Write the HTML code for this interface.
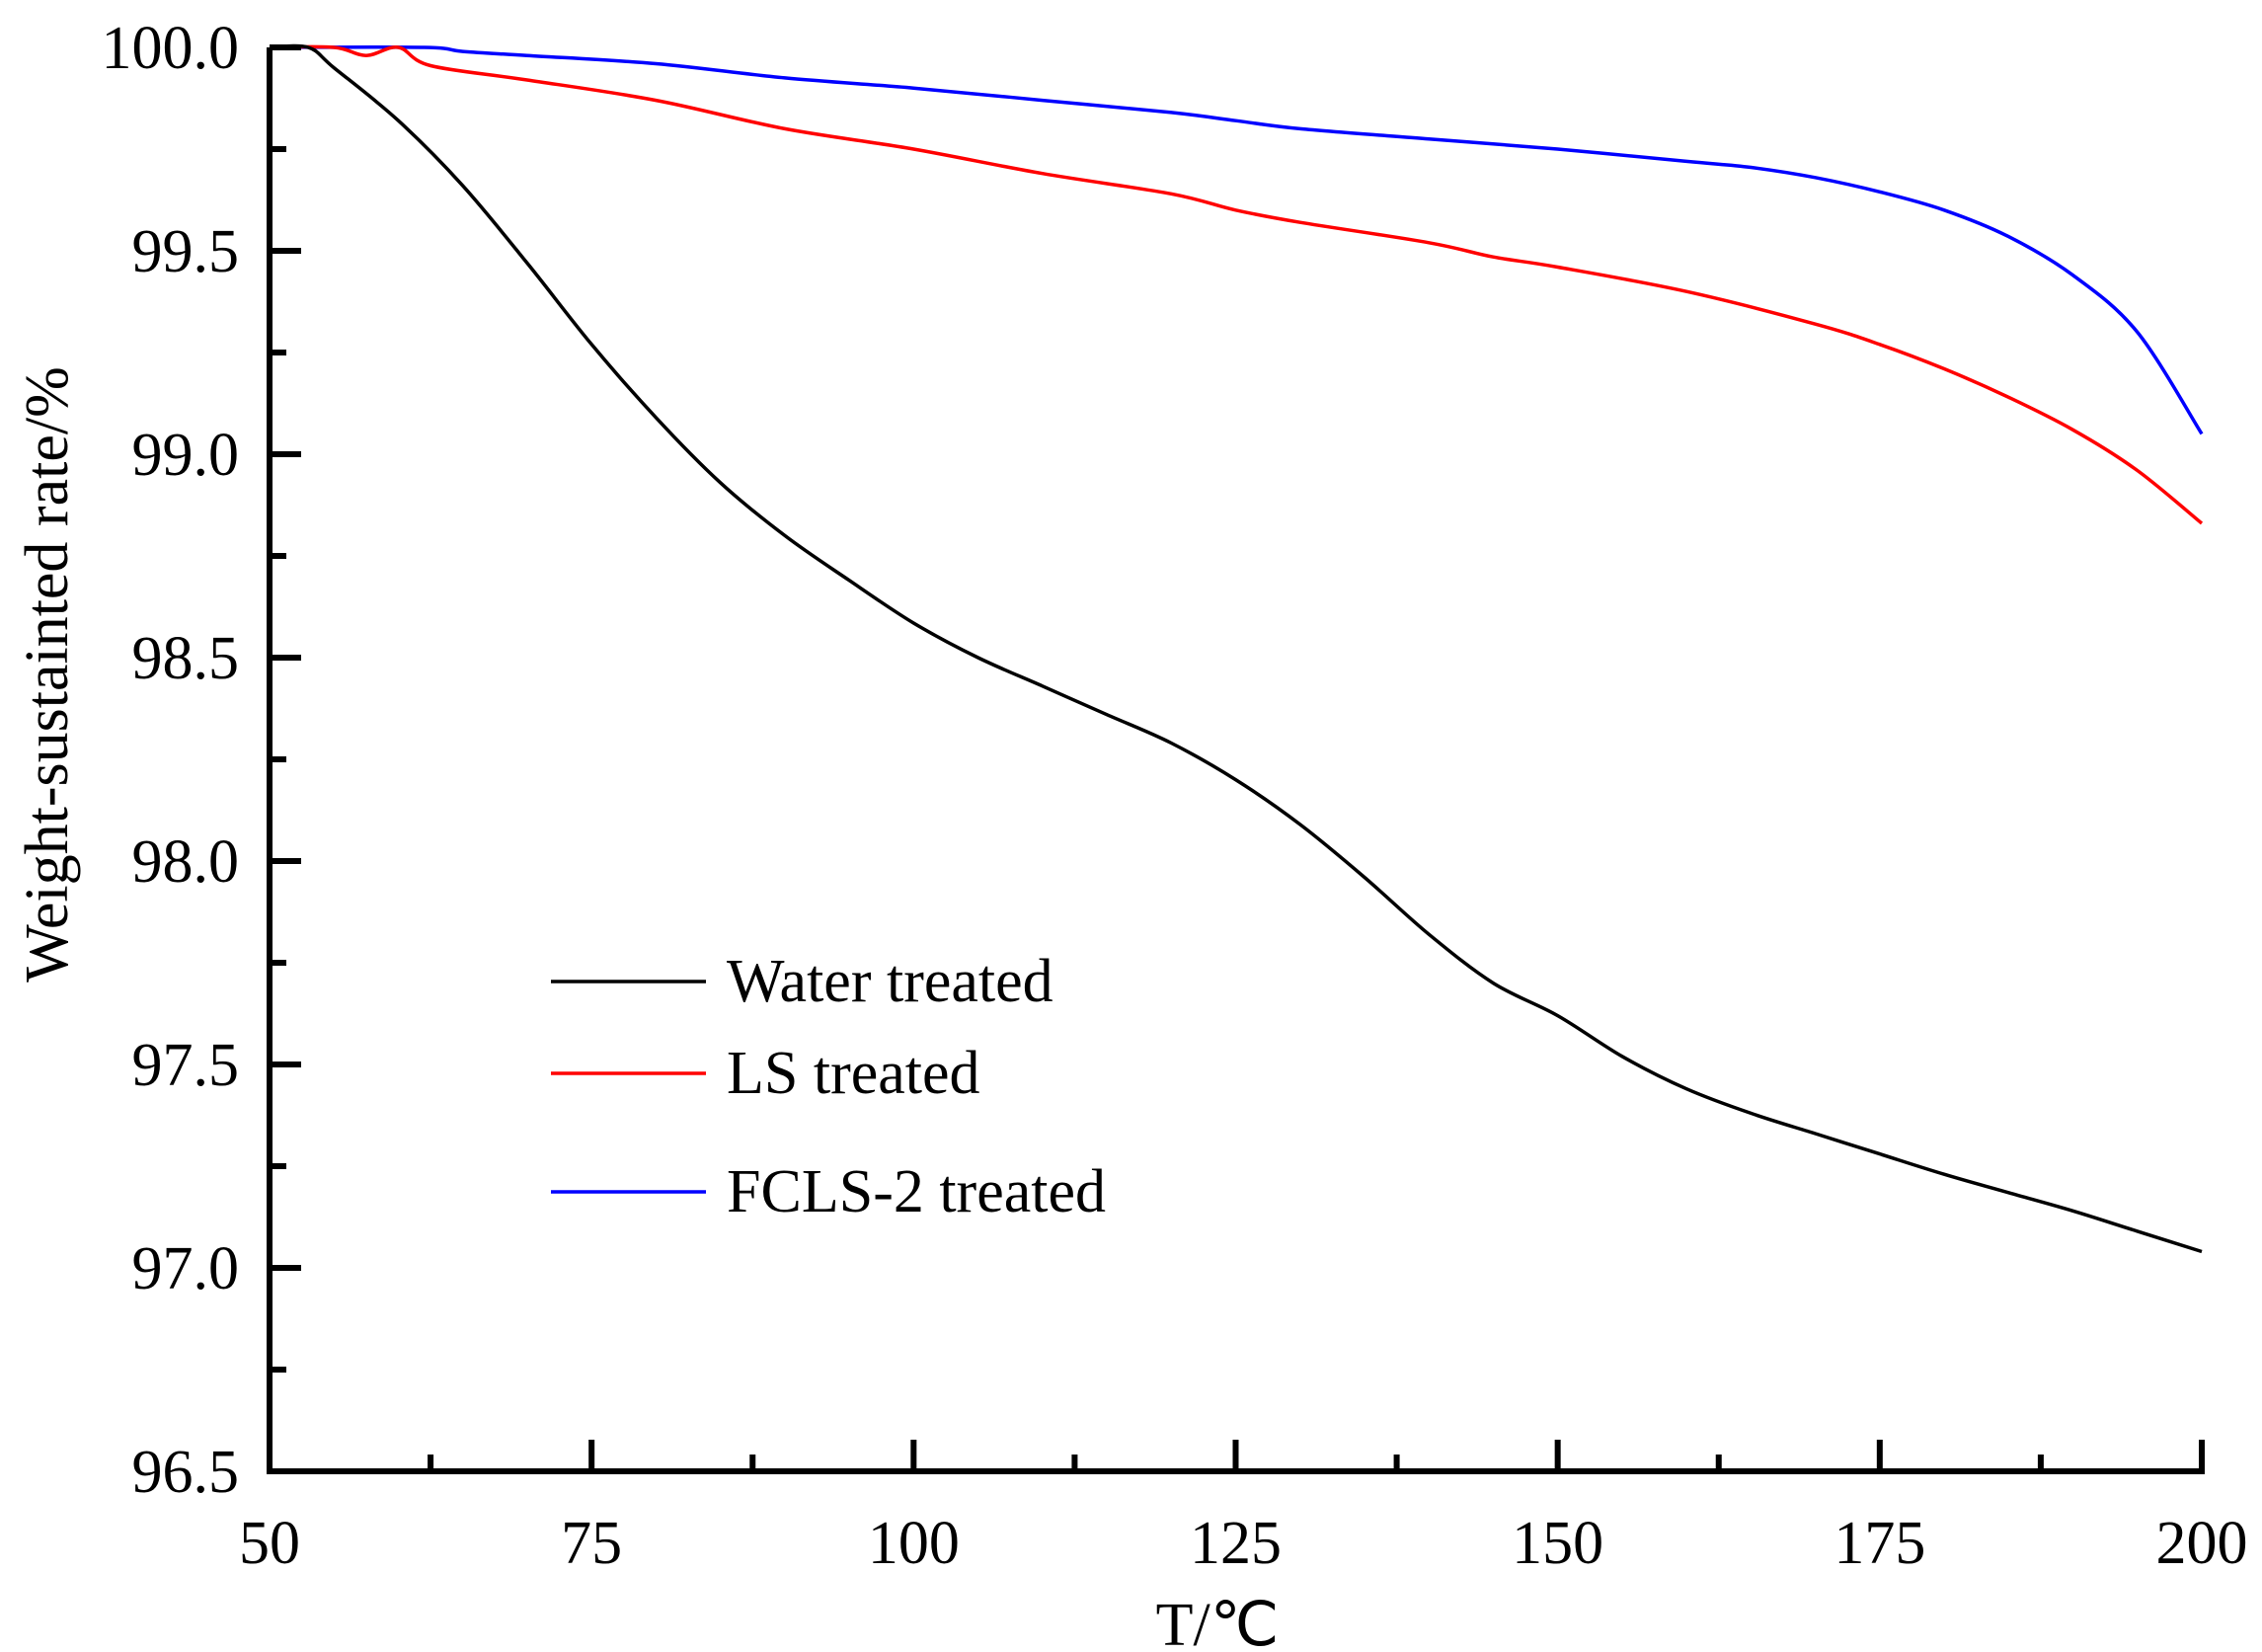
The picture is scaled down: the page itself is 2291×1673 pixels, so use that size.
<!DOCTYPE html>
<html><head><meta charset="utf-8"><style>html,body{margin:0;padding:0;background:#fff}svg{display:block}text{font-family:"Liberation Serif",serif;fill:#000}</style></head>
<body>
<svg id="s" width="2291" height="1673" viewBox="0 0 2291 1673" xmlns="http://www.w3.org/2000/svg">
<g id="g"></g>
</svg>
<script>
const X0=273,X1=2230,Y0=48,Y1=1490;
const fx=t=>X0+(t-50)*(X1-X0)/150, fy=v=>Y0+(100-v)*(Y1-Y0)/3.5;
const black=[[50,100],[53,100],[55,99.95],[60,99.82],[65,99.66],[70,99.47],[75,99.27],[80,99.09],[85,98.93],[90,98.8],[95,98.69],[100,98.585],[105,98.5],[110,98.43],[115,98.36],[120,98.29],[125,98.2],[130,98.09],[135,97.96],[140,97.82],[145,97.7],[150,97.62],[155,97.52],[160,97.44],[165,97.38],[170,97.33],[175,97.28],[180,97.23],[185,97.185],[190,97.14],[195,97.09],[200,97.04]];
const red=[[50,100],[55,100],[57.5,99.98],[60,100],[62.5,99.955],[70,99.92],[80,99.87],[90,99.8],[100,99.75],[110,99.69],[120,99.64],[125,99.6],[130,99.57],[140,99.52],[145,99.485],[150,99.46],[160,99.4],[170,99.32],[175,99.27],[180,99.21],[185,99.14],[190,99.06],[195,98.96],[200,98.83]];
const blue=[[50,100],[62,100],[65,99.99],[70,99.98],[80,99.96],[90,99.925],[100,99.9],[110,99.87],[120,99.84],[125,99.82],[130,99.8],[140,99.775],[150,99.75],[160,99.72],[165,99.705],[170,99.68],[175,99.645],[180,99.6],[185,99.535],[190,99.44],[195,99.3],[200,99.05]];
function path(d){const p=d.map(q=>[fx(q[0]),fy(q[1])]);let s=`M${p[0][0].toFixed(1)},${p[0][1].toFixed(1)}`;
for(let i=0;i<p.length-1;i++){const a=p[Math.max(i-1,0)],b=p[i],c=p[i+1],e=p[Math.min(i+2,p.length-1)];
const c1=[b[0]+(c[0]-a[0])/6,b[1]+(c[1]-a[1])/6],c2=[c[0]-(e[0]-b[0])/6,c[1]-(e[1]-b[1])/6];
s+=` C${c1[0].toFixed(1)},${c1[1].toFixed(1)} ${c2[0].toFixed(1)},${c2[1].toFixed(1)} ${c[0].toFixed(1)},${c[1].toFixed(1)}`;}return s;}
let h='';
const pl=(d,c)=>`<path fill="none" stroke="${c}" stroke-width="3.5" stroke-linejoin="round" d="${path(d)}"/>`;
h+=pl(blue,'#0000ff')+pl(red,'#ff0000')+pl(black,'#000');
h+=`<polyline fill="none" stroke="#000" stroke-width="6" points="${X0},${Y0} ${X0},${Y1} ${X1},${Y1} ${X1},${Y1-30}"/>`;
h+=`<line x1="${X0}" y1="${Y0}" x2="${X0+32}" y2="${Y0}" stroke="#000" stroke-width="6"/>`;
for(let i=0;i<=14;i++){const v=96.5+i*0.25,y=fy(v);const maj=i%2==0;
 h+=`<line x1="${X0}" y1="${y}" x2="${X0+(maj?32:17)}" y2="${y}" stroke="#000" stroke-width="6"/>`;
 if(maj)h+=`<text x="242" y="${y+21}" font-size="62" text-anchor="end">${v.toFixed(1)}</text>`;}
for(let i=0;i<=12;i++){const t=50+i*12.5,x=fx(t);const maj=i%2==0;
 h+=`<line x1="${x}" y1="${Y1}" x2="${x}" y2="${Y1-(maj?32:17)}" stroke="#000" stroke-width="6"/>`;
 if(maj)h+=`<text x="${x}" y="1583" font-size="62" text-anchor="middle">${t}</text>`;}
h+=`<text x="1233" y="1666" font-size="62" text-anchor="middle">T/℃</text>`;
h+=`<text transform="translate(68,683) rotate(-90)" font-size="62" text-anchor="middle">Weight-sustainted rate/%</text>`;
const lg=[['Water treated','#000',994],['LS treated','#ff0000',1087],['FCLS-2 treated','#0000ff',1207]];
for(const [t,c,y] of lg){h+=`<line x1="558" y1="${y}" x2="715" y2="${y}" stroke="${c}" stroke-width="3.5"/><text x="736" y="${y+20}" font-size="62">${t}</text>`;}
document.getElementById('g').innerHTML=h;
</script>
</body></html>
